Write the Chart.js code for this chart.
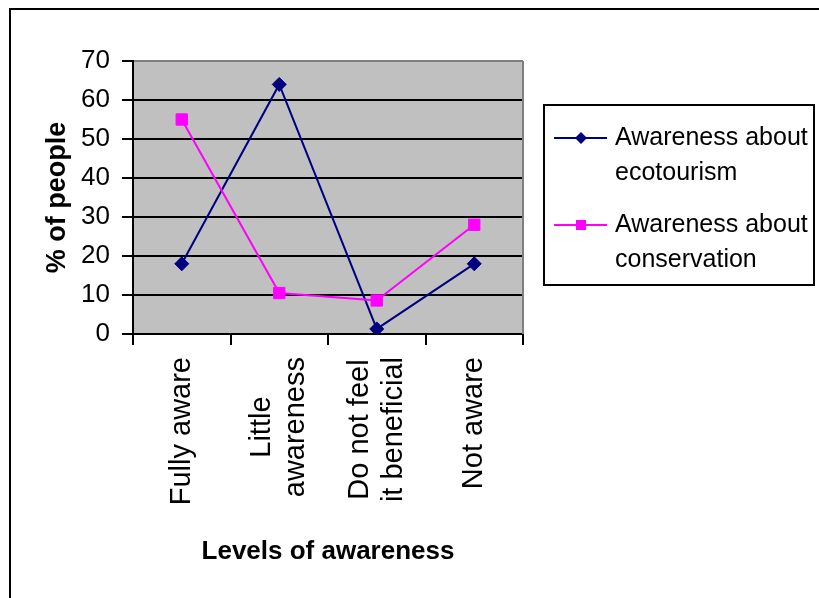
<!DOCTYPE html>
<html>
<head>
<meta charset="utf-8">
<title>Levels of awareness</title>
<script src="https://cdn.jsdelivr.net/npm/chart.js@4.4.0/dist/chart.umd.min.js"></script>
<style>
  html, body { margin: 0; padding: 0; background: #fff; }
  #wrap { width: 819px; height: 598px; }
</style>
</head>
<body>
<div id="wrap"><canvas id="awarenessChart" width="819" height="598"></canvas></div>
<script>
// Levels of awareness (x categories)
const categories = ['Fully aware', ['Little', 'awareness'], ['Do not feel', 'it beneficial'], 'Not aware'];
// % of people
const ecotourismValues = [18, 64, 1.3, 18];
const conservationValues = [55, 10.5, 8.6, 28];
const yTicks = [0, 10, 20, 30, 40, 50, 60, 70];
const seriesNames = [['Awareness about', 'ecotourism'], ['Awareness about', 'conservation']];

const FONT = 'Arial, "Liberation Sans", sans-serif';
Chart.defaults.font.family = FONT;
Chart.defaults.color = '#000';

// gray plot area + outer frame, drawn before everything else
const backdrop = {
    id: 'backdrop',
    beforeDraw(chart) {
        const { ctx, chartArea: a } = chart;
        ctx.save();
        ctx.fillStyle = '#fff';
        ctx.fillRect(0, 0, chart.width, chart.height);
        ctx.fillStyle = '#c0c0c0';
        ctx.fillRect(a.left, a.top, a.right - a.left, a.bottom - a.top);
        ctx.strokeStyle = '#000';
        ctx.lineWidth = 2;
        ctx.strokeRect(10, 9, 1000, 1000);
        ctx.restore();
    },
    beforeDatasetsDraw(chart) {
        const { ctx, chartArea: a } = chart;
        ctx.save();
        ctx.strokeStyle = '#808080';
        ctx.lineWidth = 2;
        ctx.beginPath();
        ctx.moveTo(a.right, a.top);
        ctx.lineTo(a.right, a.bottom);
        ctx.stroke();
        ctx.restore();
    }
};

// rotated category labels, lines centred on each other
const xLabels = {
    id: 'xLabels',
    afterDraw(chart) {
        const { ctx } = chart;
        const xs = chart.scales.x;
        const lh = 34;
        ctx.save();
        ctx.font = '29px ' + FONT;
        ctx.fillStyle = '#000';
        ctx.textAlign = 'center';
        ctx.textBaseline = 'middle';
        categories.forEach((label, i) => {
            const lines = Array.isArray(label) ? label : [label];
            const maxW = Math.max(...lines.map(l => ctx.measureText(l).width));
            ctx.save();
            ctx.translate(xs.getPixelForTick(i), xs.top + 23);
            ctx.rotate(-Math.PI / 2);
            lines.forEach((line, j) => {
                ctx.fillText(line, -maxW / 2, (j - (lines.length - 1) / 2) * lh);
            });
            ctx.restore();
        });
        ctx.restore();
    }
};

// boxed legend on the right
const boxLegend = {
    id: 'boxLegend',
    afterDraw(chart) {
        const { ctx } = chart;
        const rows = [138, 225];
        ctx.save();
        ctx.strokeStyle = '#000';
        ctx.lineWidth = 2;
        ctx.strokeRect(544, 105, 270, 180);
        ctx.font = '25px ' + FONT;
        ctx.textBaseline = 'middle';
        ctx.textAlign = 'left';
        chart.data.datasets.forEach((ds, i) => {
            const y = rows[i];
            ctx.strokeStyle = ds.borderColor;
            ctx.fillStyle = ds.borderColor;
            ctx.lineWidth = 2;
            ctx.beginPath();
            ctx.moveTo(554, y);
            ctx.lineTo(607, y);
            ctx.stroke();
            ctx.beginPath();
            if (ds.pointStyle === 'rectRot') {
                ctx.moveTo(581, y - 6);
                ctx.lineTo(587, y);
                ctx.lineTo(581, y + 6);
                ctx.lineTo(575, y);
                ctx.closePath();
            } else {
                ctx.rect(576, y - 5, 10, 10);
            }
            ctx.fill();
            ctx.fillStyle = '#000';
            ds.label.forEach((line, j) => ctx.fillText(line, 615, y + j * 35));
        });
        ctx.restore();
    }
};

new Chart(document.getElementById('awarenessChart'), {
    type: 'line',
    data: {
        labels: categories,
        datasets: [{
            label: seriesNames[0],
            data: ecotourismValues,
            borderColor: '#000080',
            backgroundColor: '#000080',
            borderWidth: 2,
            pointStyle: 'rectRot',
            pointRadius: 7,
            pointBorderWidth: 1,
            tension: 0,
            order: 1
        }, {
            label: seriesNames[1],
            data: conservationValues,
            borderColor: '#ff00ff',
            backgroundColor: '#ff00ff',
            borderWidth: 2,
            pointStyle: 'rect',
            pointRadius: 8,
            pointBorderWidth: 1,
            tension: 0,
            order: 0
        }]
    },
    options: {
        responsive: false,
        animation: false,
        devicePixelRatio: 1,
        layout: { padding: { left: 9, top: 61, right: 296, bottom: 0 } },
        plugins: {
            legend: { display: false },
            tooltip: { enabled: false }
        },
        scales: {
            x: {
                offset: true,
                grid: {
                    offset: true,
                    drawOnChartArea: false,
                    drawTicks: true,
                    tickLength: 11,
                    tickColor: '#000',
                    lineWidth: 2
                },
                border: { color: '#000', width: 2 },
                ticks: { display: false },
                title: {
                    display: true,
                    text: 'Levels of awareness',
                    font: { size: 26, weight: 'bold' },
                    padding: { bottom: 31 }
                },
                afterFit: s => { s.height = 264; }
            },
            y: {
                min: yTicks[0],
                max: yTicks[yTicks.length - 1],
                ticks: {
                    stepSize: yTicks[1] - yTicks[0],
                    font: { size: 26 },
                    color: '#000',
                    padding: 12
                },
                grid: {
                    color: c => (c.tick && c.tick.value === yTicks[yTicks.length - 1]) ? '#808080' : '#000',
                    tickColor: '#000',
                    lineWidth: 2,
                    tickLength: 11
                },
                border: { color: '#000', width: 2 },
                title: {
                    display: true,
                    text: '% of people',
                    font: { size: 27, weight: 'bold' },
                    padding: { top: 32 }
                },
                afterFit: s => { s.width = 124; }
            }
        }
    },
    plugins: [backdrop, xLabels, boxLegend]
});
</script>
</body>
</html>
